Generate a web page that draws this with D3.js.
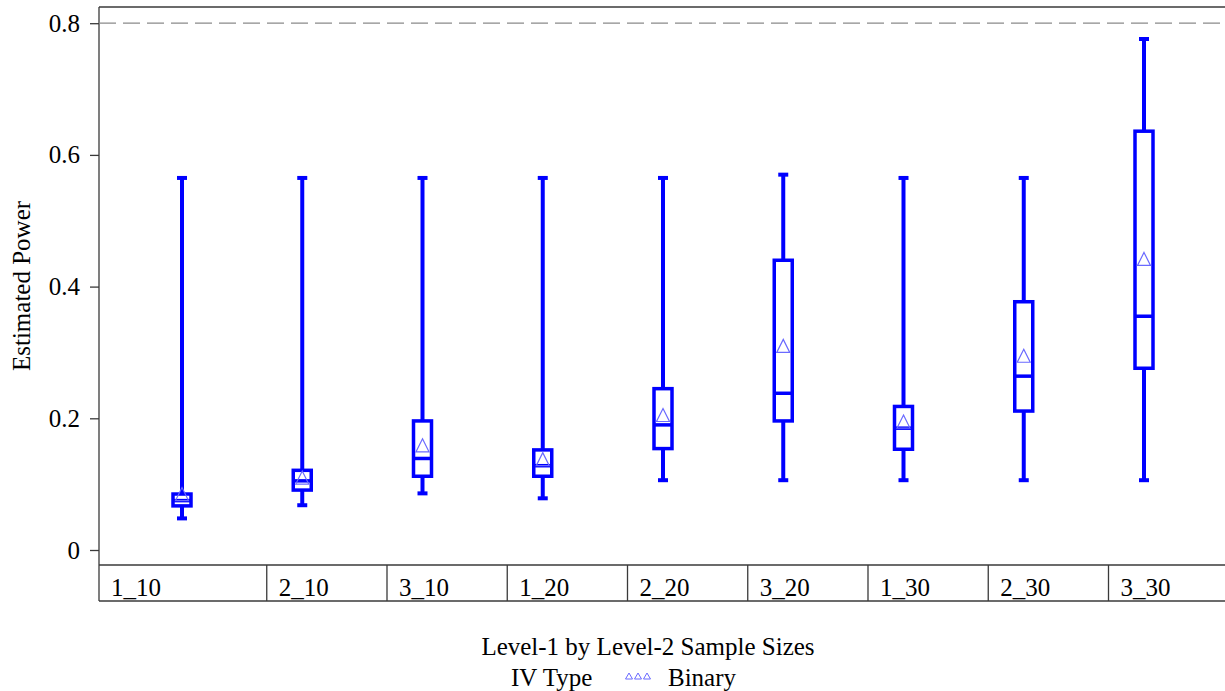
<!DOCTYPE html>
<html>
<head>
<meta charset="utf-8">
<script src="https://cdn.jsdelivr.net/npm/d3@7"></script>
<style>
  body { margin: 0; background: #fff; }
  text { font-family: "Liberation Serif", "Times New Roman", serif; fill: #000; }
</style>
</head>
<body>
<div id="chart"></div>
<script>
// box plot summaries
const groups = ['1_10', '2_10', '3_10', '1_20', '2_20', '3_20', '1_30', '2_30', '3_30'];
const whiskerLow  = [0.048, 0.068, 0.086, 0.0785, 0.106, 0.106, 0.106, 0.106, 0.106];
const q1          = [0.067, 0.091, 0.112, 0.112, 0.154, 0.196, 0.153, 0.211, 0.276];
const median      = [0.075, 0.105, 0.139, 0.128, 0.190, 0.238, 0.185, 0.264, 0.355];
const q3          = [0.085, 0.121, 0.196, 0.152, 0.245, 0.440, 0.218, 0.377, 0.636];
const whiskerHigh = [0.565, 0.565, 0.565, 0.565, 0.565, 0.570, 0.565, 0.565, 0.776];
const means       = [0.085, 0.110, 0.159, 0.138, 0.205, 0.310, 0.195, 0.295, 0.442];
const yTicks = [0, 0.2, 0.4, 0.6, 0.8];
const refLine = 0.8;

const colors = { box: '#0000ff', mean: '#6a6aff', frame: '#3a3a3a', ref: '#8a8a8a' };
const fontSize = '25px';

let width = 1225, height = 691;
const plot = { left: 99, top: 7, right: 1225, bottom: 565, tableBottom: 601 };

const data = groups.map((g, i) => ({
    g, lo: whiskerLow[i], q1: q1[i], med: median[i], q3: q3[i], hi: whiskerHigh[i], mean: means[i]
}));

let x = d3.scalePoint().domain(groups).range([182, 1144]);
let y = d3.scaleLinear().domain([0, 0.8]).range([550, 23.2]);

let svg = d3.select('#chart').append('svg')
    .attr('width', width).attr('height', height);

// frame
let g_frame = svg.append('g').attr('class', 'frame')
    .attr('stroke', colors.frame).attr('stroke-width', 1.3).attr('fill', 'none');
g_frame.append('line').attr('x1', plot.left).attr('x2', plot.left).attr('y1', plot.top).attr('y2', plot.tableBottom);
g_frame.append('line').attr('x1', plot.left).attr('x2', plot.right).attr('y1', plot.top).attr('y2', plot.top);
g_frame.append('line').attr('x1', plot.left).attr('x2', plot.right).attr('y1', plot.bottom).attr('y2', plot.bottom);
g_frame.append('line').attr('x1', plot.left).attr('x2', plot.right).attr('y1', plot.tableBottom).attr('y2', plot.tableBottom);

// y axis
let yAxis = d3.axisLeft(y).tickValues(yTicks).tickSize(9).tickPadding(10)
    .tickFormat(d => d === 0 ? '0' : d3.format('.1f')(d));
let g_y = svg.append('g').attr('transform', `translate(${plot.left},0)`).call(yAxis);
g_y.select('.domain').remove();
g_y.selectAll('line').attr('stroke', colors.frame).attr('stroke-width', 1.3);
g_y.selectAll('text').style('font-size', fontSize).style('font-family', '"Liberation Serif", serif').attr('fill', '#000');

svg.append('text')
    .attr('transform', `translate(30,${(plot.top + plot.bottom) / 2}) rotate(-90)`)
    .attr('text-anchor', 'middle').style('font-size', fontSize)
    .text('Estimated Power');

// reference line
svg.append('line')
    .attr('x1', plot.left).attr('x2', plot.right - 3)
    .attr('y1', y(refLine)).attr('y2', y(refLine))
    .attr('stroke', colors.ref).attr('stroke-width', 1.3)
    .attr('stroke-dasharray', '17,7');

// category table below plot
const cellOffset = 35.5;
let g_table = svg.append('g').attr('class', 'table');
g_table.selectAll('line').data(groups.slice(1)).enter().append('line')
    .attr('x1', d => x(d) - cellOffset).attr('x2', d => x(d) - cellOffset)
    .attr('y1', plot.bottom).attr('y2', plot.tableBottom)
    .attr('stroke', colors.frame).attr('stroke-width', 1.3);
g_table.selectAll('text').data(groups).enter().append('text')
    .attr('x', (d, i) => (i === 0 ? plot.left : x(d) - cellOffset) + 12)
    .attr('y', 596)
    .style('font-size', fontSize)
    .text(d => d);

// boxes
const boxW = 18, capW = 10;
let g_box = svg.append('g').attr('class', 'boxes');
let box = g_box.selectAll('g').data(data).enter().append('g')
    .attr('transform', d => `translate(${x(d.g)},0)`);

box.append('line').attr('class', 'whisker')
    .attr('x1', 0).attr('x2', 0)
    .attr('y1', d => y(d.hi)).attr('y2', d => y(d.q3))
    .attr('stroke', colors.box).attr('stroke-width', 4);
box.append('line').attr('class', 'whisker')
    .attr('x1', 0).attr('x2', 0)
    .attr('y1', d => y(d.q1)).attr('y2', d => y(d.lo))
    .attr('stroke', colors.box).attr('stroke-width', 4);
box.append('line').attr('class', 'cap')
    .attr('x1', -capW / 2).attr('x2', capW / 2)
    .attr('y1', d => y(d.hi)).attr('y2', d => y(d.hi))
    .attr('stroke', colors.box).attr('stroke-width', 4);
box.append('line').attr('class', 'cap')
    .attr('x1', -capW / 2).attr('x2', capW / 2)
    .attr('y1', d => y(d.lo)).attr('y2', d => y(d.lo))
    .attr('stroke', colors.box).attr('stroke-width', 4);
box.append('rect')
    .attr('x', -boxW / 2).attr('width', boxW)
    .attr('y', d => y(d.q3)).attr('height', d => y(d.q1) - y(d.q3))
    .attr('fill', 'none').attr('stroke', colors.box).attr('stroke-width', 3.5);
box.append('line').attr('class', 'median')
    .attr('x1', -boxW / 2).attr('x2', boxW / 2)
    .attr('y1', d => y(d.med)).attr('y2', d => y(d.med))
    .attr('stroke', colors.box).attr('stroke-width', 3.5);

// mean markers
let tri = 'M0,-6.5L6.5,6.5L-6.5,6.5Z';
box.append('path')
    .attr('transform', d => `translate(0,${y(d.mean)})`)
    .attr('d', tri)
    .attr('fill', 'none').attr('stroke', colors.mean).attr('stroke-width', 1.2);

// axis title and legend
svg.append('text').attr('x', 648).attr('y', 655)
    .attr('text-anchor', 'middle').style('font-size', fontSize)
    .text('Level-1 by Level-2 Sample Sizes');

let g_leg = svg.append('g').attr('class', 'legend');
g_leg.append('text').attr('x', 511).attr('y', 686).style('font-size', fontSize).text('IV Type');
let smallTri = 'M0,-3L3.5,3L-3.5,3Z';
g_leg.selectAll('path').data([0, 1, 2]).enter().append('path')
    .attr('transform', d => `translate(${629 + d * 9},676)`)
    .attr('d', smallTri)
    .attr('fill', 'none').attr('stroke', colors.mean).attr('stroke-width', 1);
g_leg.append('text').attr('x', 668).attr('y', 686).style('font-size', fontSize).text('Binary');
</script>
</body>
</html>
